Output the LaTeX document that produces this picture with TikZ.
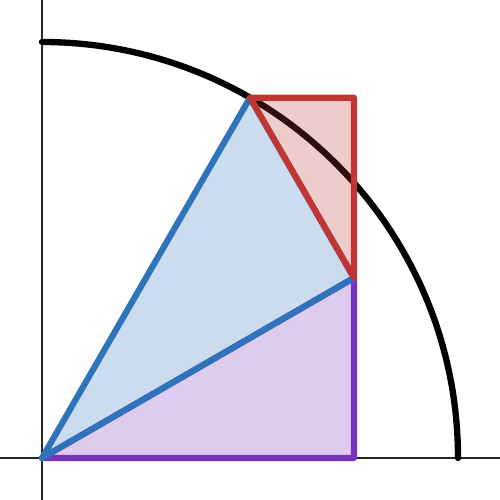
\documentclass[tikz,border=0pt]{standalone}
\usepackage{tikz}
\usetikzlibrary{calc}
\definecolor{triblue}{HTML}{2F74BA}
\definecolor{tripurple}{HTML}{7733BB}
\definecolor{trired}{HTML}{C13535}

\begin{document}
\begin{tikzpicture}[x=4.16cm, y=4.16cm,
      axis/.style={line width=0.45pt, black!85},
      circ/.style={line width=1.8pt, line cap=round},
      tri/.style={line width=1.75pt, line join=round, line cap=round,
                  fill opacity=0.25}
    ]
    \useasboundingbox (-0.42cm,-0.42cm) rectangle (4.58cm,4.58cm);
    % points of the angle-sum figure
    \coordinate (O) at (0,0);
    \coordinate (P) at (60:1);
    \coordinate (Q) at ({cos(30)*cos(30)},{cos(30)*sin(30)});
    \coordinate (F) at (Q |- O);
    \coordinate (T) at (Q |- P);
    \coordinate (xl) at (-0.42cm,0);
    \coordinate (xr) at (4.58cm,0);
    \coordinate (yb) at (0,-0.42cm);
    \coordinate (yt) at (0,4.58cm);
    \coordinate (top) at (0,1);
    % axes and unit circle
    \draw[axis] (xl) -- (xr);
    \draw[axis] (yb) -- (yt);
    \draw[circ] (top) arc[start angle=90, end angle=0, radius=4.16cm];
    % triangles
    \filldraw[tri, draw=tripurple, fill=tripurple] (O) -- (F) -- (Q) -- cycle;
    \filldraw[tri, draw=triblue, fill=triblue] (O) -- (Q) -- (P) -- cycle;
    \filldraw[tri, draw=trired, fill=trired] (P) -- (T) -- (Q) -- cycle;
  \end{tikzpicture}
\end{document}
